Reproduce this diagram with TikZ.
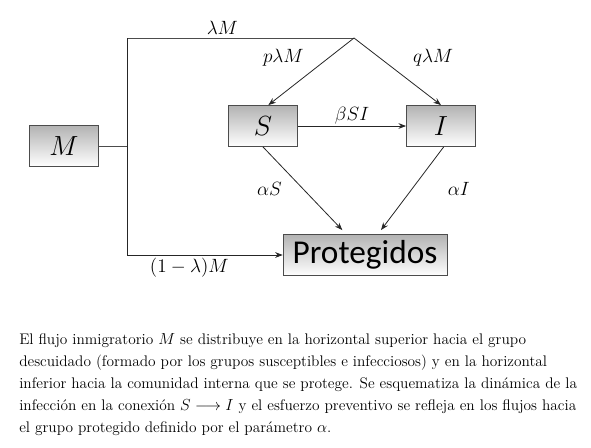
\documentclass[tikz,border=0pt]{standalone}
\usepackage{amsmath,amssymb}
\usepackage{fontspec}
\newfontfamily\boxfont{Carlito}
\usetikzlibrary{arrows.meta, positioning}

\begin{document}
\begin{tikzpicture}[>=Stealth, x=0.75pt, y=-0.75pt,
    box/.style={rectangle, draw=gray!60!black, top color=gray!60, bottom color=white,
                minimum width=52pt, minimum height=31pt, font=\fontsize{20}{22}\selectfont},
    arrow/.style={->, semithick, draw=black!85},
    flow/.style={semithick, draw=black!70},
    lbl/.style={font=\fontsize{14.5}{16}\selectfont}]

    \useasboundingbox (0,0) rectangle (591,447);

    \node[box] (M) at (64,146) {$M$};
    \node[box] (S) at (263,126) {$S$};
    \node[box] (I) at (441,126) {$I$};
    \node[box, minimum width=123pt, font=\boxfont\fontsize{25}{27}\selectfont] (P) at (365,255) {Protegidos};

    \coordinate (fork) at (127,146);
    \coordinate (top) at (127,38);
    \coordinate (split) at (354,38);

    \draw[flow] (M.east) -- (fork);
    \draw[flow] (split) -- node[lbl, pos=0.58, above, yshift=-1pt] {$\lambda M$} (top);
    \draw[arrow] (top) |- node[lbl, pos=0.7, below, yshift=1pt] {$(1-\lambda)M$} (P.west);

    \draw[arrow] (split) -- node[lbl, midway, above left, xshift=-2pt] {$p\lambda M$} ([xshift=4pt]S.north);
    \draw[arrow] (split) -- node[lbl, midway, above right, xshift=8pt] {$q\lambda M$} (I.north);
    \draw[arrow] (S) -- node[lbl, midway, above, yshift=-2pt] {$\beta S I$} (I);
    \draw[arrow] (S.south) -- node[lbl, midway, left, xshift=-12pt] {$\alpha S$} ([xshift=-17pt, yshift=3pt]P.north);
    \draw[arrow] ([xshift=2pt]I.south) -- node[lbl, midway, right, xshift=23pt] {$\alpha I$} ([xshift=12pt, yshift=3pt]P.north);

    \node[anchor=north west, inner sep=0pt, align=left, font=\fontsize{11.5}{16.5}\selectfont] (caption) at (19,333)
      {El flujo inmigratorio $M$ se distribuye en la horizontal superior hacia el grupo\\
       descuidado (formado por los grupos susceptibles e infecciosos) y en la horizontal\\
       inferior hacia la comunidad interna que se protege. Se esquematiza la dinámica de la\\
       infección en la conexión $S\longrightarrow I$ y el esfuerzo preventivo se refleja en los flujos hacia\\
       el grupo protegido definido por el parámetro $\alpha$.};
\end{tikzpicture}
\end{document}
